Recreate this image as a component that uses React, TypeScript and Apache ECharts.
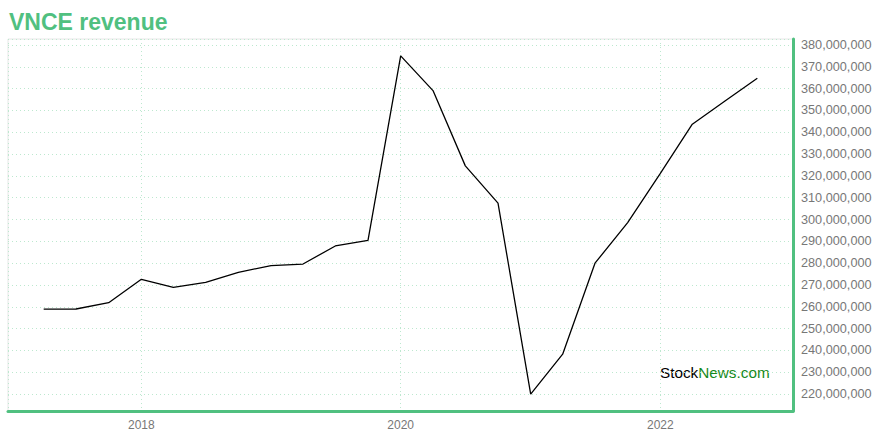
import React, { useEffect, useRef } from "react";
import * as echarts from "echarts";

const dates: string[] = [
  "2017-04-01", "2017-07-01", "2017-10-01",
  "2018-01-01", "2018-04-01", "2018-07-01", "2018-10-01",
  "2019-01-01", "2019-04-01", "2019-07-01", "2019-10-01",
  "2020-01-01", "2020-04-01", "2020-07-01", "2020-10-01",
  "2021-01-01", "2021-04-01", "2021-07-01", "2021-10-01",
  "2022-01-01", "2022-04-01", "2022-07-01", "2022-10-01",
];

const revenue: number[] = [
  258.9e6, 259.0e6, 261.9e6,
  272.6e6, 268.9e6, 271.2e6, 275.8e6,
  278.9e6, 279.6e6, 287.9e6, 290.5e6,
  375.0e6, 359.1e6, 324.6e6, 307.5e6,
  220.0e6, 238.3e6, 280.0e6, 298.6e6,
  321.2e6, 343.7e6, 354.2e6, 364.8e6,
];

const title = "VNCE revenue";
const GREEN = "#50c080";
const GRID_GREEN = "#bde8cf";
const FONT = "Arial, 'Liberation Sans', sans-serif";

export default function App() {
  const ref = useRef<HTMLDivElement>(null);
  useEffect(() => {
    document.body.style.margin = "0";
    if (!ref.current) return;
    const chart = echarts.init(ref.current, undefined, { renderer: "svg" });
    const ts = dates.map((d) => new Date(d + "T00:00:00Z").getTime());
    const xRange = ts[ts.length - 1] - ts[0];
    const vMin = Math.min(...revenue);
    const vMax = Math.max(...revenue);
    const vRange = vMax - vMin;
    const twoYears = 2 * 365.25 * 86400000;
    chart.setOption({
      animation: false,
      backgroundColor: "#fff",
      title: {
        text: title,
        left: 4,
        top: 5,
        textStyle: { color: GREEN, fontSize: 23, fontWeight: "bold", fontFamily: FONT },
      },
      grid: {
        left: 8,
        right: 87,
        top: 39,
        bottom: 29,
        show: true,
        borderColor: "#e6e6e6",
        borderWidth: 1,
      },
      xAxis: {
        type: "time",
        min: ts[0] - 0.05 * xRange,
        max: ts[ts.length - 1] + 0.05 * xRange,
        minInterval: twoYears,
        maxInterval: twoYears,
        axisLine: { show: true, lineStyle: { color: GREEN, width: 3 } },
        axisTick: { show: false },
        axisLabel: {
          color: "#777",
          fontSize: 12,
          fontFamily: FONT,
          margin: 8,
          showMinLabel: false,
          showMaxLabel: false,
          formatter: (v: number) => String(new Date(v).getUTCFullYear()),
        },
        splitLine: { show: true, lineStyle: { color: GRID_GREEN, type: [1, 3], width: 1 } },
      },
      yAxis: {
        type: "value",
        position: "right",
        min: vMin - 0.05 * vRange,
        max: vMax + 0.05 * vRange,
        splitNumber: 17,
        axisLine: { show: true, lineStyle: { color: GREEN, width: 3 } },
        axisTick: { show: false },
        axisLabel: {
          color: "#777",
          fontSize: 12.7,
          fontFamily: FONT,
          margin: 8,
          showMinLabel: false,
          showMaxLabel: false,
          formatter: (v: number) => Math.round(v).toLocaleString("en-US"),
        },
        splitLine: { show: true, lineStyle: { color: GRID_GREEN, type: [1, 3], width: 1 } },
      },
      series: [
        {
          type: "line",
          data: ts.map((t, i) => [t, revenue[i]]),
          showSymbol: false,
          symbol: "none",
          lineStyle: { color: "#000", width: 1.3 },
        },
      ],
      graphic: [
        {
          type: "text",
          left: 660,
          top: 365,
          style: {
            text: "{a|Stock}{b|News.com}",
            rich: {
              a: { fill: "#000", fontSize: 15.3, fontFamily: FONT },
              b: { fill: "#148a1c", fontSize: 15.3, fontFamily: FONT },
            },
          },
        },
      ],
    });
    return () => chart.dispose();
  }, []);
  return <div ref={ref} style={{ width: 880, height: 440 }} />;
}
